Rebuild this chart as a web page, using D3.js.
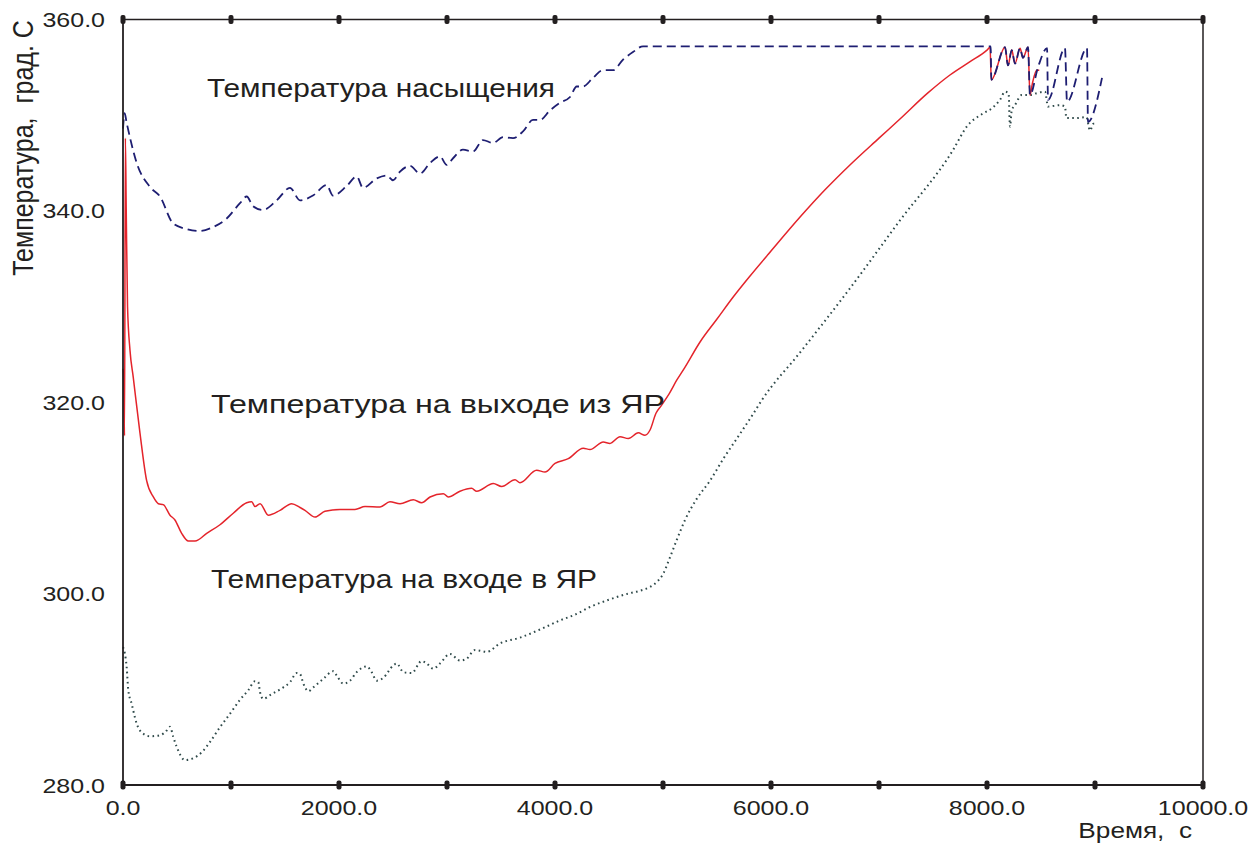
<!DOCTYPE html>
<html>
<head>
<meta charset="utf-8">
<script src="https://cdn.jsdelivr.net/npm/d3@7"></script>
<style>
  html, body { margin: 0; padding: 0; background: #fff; }
  svg text { font-family: "Liberation Sans", Arial, sans-serif; fill: #231f20; white-space: pre; }
</style>
</head>
<body>
<svg id="chart" width="1255" height="847"></svg>
<script>
// Time, s and temperature, °C
const xTicks = [0, 1000, 2000, 3000, 4000, 5000, 6000, 7000, 8000, 9000, 10000];
const xTickLabels = [0, 2000, 4000, 6000, 8000, 10000];
const yTickLabels = [280, 300, 320, 340, 360];

// Saturation temperature
const saturationTemp = [
  [0,348.6],[15,350.2],[34,349.2],[127,345.0],[250,342.5],[343,341.5],[463,338.7],[590,338.1],
  [713,337.9],[833,338.3],[960,339.2],[1083,340.8],[1145,341.5],[1204,340.5],[1296,340.1],
  [1423,341.1],[1546,342.4],[1639,341.1],[1759,341.6],[1886,342.7],[1944,341.6],[2071,342.6],
  [2164,343.6],[2222,342.4],[2349,343.4],[2442,343.7],[2500,343.2],[2565,344.1],[2657,344.7],
  [2750,343.9],[2843,345.0],[2935,345.7],[2997,344.8],[3056,345.5],[3148,346.4],[3241,346.2],
  [3333,347.4],[3426,347.1],[3519,347.7],[3611,347.6],[3704,348.3],[3796,349.5],[3861,349.5],
  [3954,350.5],[4046,351.3],[4139,351.9],[4201,353.0],[4259,353.0],[4352,353.9],[4444,354.7],
  [4537,354.7],[4630,355.8],[4722,356.6],[4815,357.2],[8034,357.2],[8040,353.7],[8167,357.1],
  [8194,355.2],[8229,356.8],[8259,355.4],[8306,357.0],[8333,356.0],[8380,357.1],[8398,352.1],
  [8472,355.0],[8556,357.0],[8565,351.6],[8722,357.0],[8741,351.4],[8926,357.0],[8935,349.3],
  [9065,353.9]
];

// Core outlet temperature
const outletTemp = [
  [0,323.5],[6,322.5],[14,316.5],[22,347.6],[30,340.0],[42,330.0],[65,325.4],[95,322.6],
  [157,316.8],[219,311.8],[281,310.1],[327,309.4],[373,309.3],[435,308.2],[481,307.7],
  [543,306.3],[605,305.5],[667,305.5],[775,306.3],[898,307.2],[1021,308.4],[1145,309.5],
  [1192,309.6],[1222,309.1],[1269,309.4],[1345,308.2],[1454,308.7],[1562,309.4],[1639,309.0],
  [1685,308.7],[1778,308.0],[1870,308.6],[2009,308.8],[2148,308.8],[2241,309.1],[2380,309.05],
  [2472,309.6],[2565,309.4],[2688,309.8],[2765,309.5],[2843,310.1],[2966,310.45],[3012,310.1],
  [3120,310.7],[3228,311.0],[3275,310.7],[3429,311.5],[3506,311.2],[3630,311.9],[3676,311.6],
  [3830,312.9],[3907,312.7],[4000,313.6],[4123,314.1],[4262,315.2],[4324,315.05],[4447,315.85],
  [4509,315.7],[4602,316.4],[4679,316.2],[4771,316.8],[4833,316.55],[4880,317.1],[4935,318.85],
  [4981,319.6],[5058,320.9],[5127,322.3],[5200,323.6],[5343,326.3],[5500,328.7],[5650,331.0],
  [5806,333.2],[6000,335.8],[6269,339.35],[6500,342.2],[6731,344.8],[7000,347.6],[7194,349.6],
  [7450,352.3],[7657,354.2],[7843,355.6],[8000,356.8],[8028,357.1],[8040,353.7],[8167,357.1],
  [8194,355.2],[8229,356.8],[8259,355.4],[8306,357.0],[8333,356.0],[8380,357.1],[8398,352.1],
  [8420,353.3],[8460,354.7],[8484,354.7]
];

// Core inlet temperature
const inletTemp = [
  [0,294.4],[34,292.3],[49,289.9],[80,288.5],[127,286.4],[188,285.35],[250,285.1],[343,285.2],
  [405,285.7],[435,286.1],[466,285.0],[497,284.0],[574,282.6],[651,282.8],[728,283.4],[806,284.5],
  [898,286.05],[991,287.45],[1083,288.9],[1160,289.9],[1222,290.85],[1253,290.75],[1269,289.7],
  [1299,289.0],[1361,289.4],[1469,290.1],[1546,290.75],[1608,291.7],[1639,291.6],[1670,290.6],
  [1716,289.8],[1762,290.2],[1855,291.1],[1948,291.9],[1978,291.45],[2040,290.6],[2102,290.9],
  [2164,291.8],[2256,292.4],[2302,291.8],[2349,290.9],[2410,291.2],[2503,292.5],[2534,292.7],
  [2596,291.8],[2673,291.7],[2765,292.95],[2812,292.7],[2873,292.15],[2935,292.7],[3028,293.7],
  [3120,293.0],[3182,293.2],[3259,294.1],[3321,294.0],[3367,293.9],[3491,294.8],[3676,295.4],
  [3861,296.25],[4046,297.2],[4185,297.8],[4324,298.6],[4509,299.4],[4694,300.05],[4787,300.3],
  [4880,300.7],[4941,301.2],[5003,302.1],[5065,303.8],[5127,305.6],[5204,307.7],[5312,309.9],
  [5435,311.8],[5559,314.1],[5713,316.7],[5836,318.8],[5914,320.2],[6269,325.2],[6731,331.9],
  [7194,339.0],[7685,346.35],[7812,348.8],[7966,350.2],[8043,350.7],[8120,351.6],[8167,352.45],
  [8200,352.3],[8213,348.8],[8229,350.5],[8259,351.05],[8321,352.1],[8398,352.1],[8460,352.3],
  [8537,352.45],[8565,350.9],[8676,351.05],[8722,350.9],[8735,349.7],[8827,349.7],[8920,349.8],
  [8954,348.4],[8985,349.1],[9016,349.1]
];

const seriesNames = ["Температура насыщения", "Температура на выходе из ЯР", "Температура на входе в ЯР"];

const svg = d3.select("#chart");
const x = d3.scaleLinear().domain([0, 10000]).range([123, 1203]);
const y = d3.scaleLinear().domain([280, 360]).range([785, 19.5]);
const SX = 1.19; // horizontal widening of the lettering

const fmt = d3.format(".1f");
const line = d3.line().x(d => x(d[0])).y(d => y(d[1])).curve(d3.curveMonotoneX);

// plot lines
svg.append("path").datum(inletTemp).attr("d", line)
  .attr("fill", "none").attr("stroke", "#2f4a4a").attr("stroke-width", 2)
  .attr("stroke-dasharray", "1.6,3.4");
svg.append("path").datum(outletTemp).attr("d", line)
  .attr("fill", "none").attr("stroke", "#e4242b").attr("stroke-width", 1.5);
svg.append("path").datum(saturationTemp).attr("d", line)
  .attr("fill", "none").attr("stroke", "#1e1e72").attr("stroke-width", 1.8)
  .attr("stroke-dasharray", "9,5");

// frame
const [x0, x1] = x.range();
const [yb, yt] = y.range();
svg.append("line").attr("x1", x0).attr("x2", x1).attr("y1", yt).attr("y2", yt)
  .attr("stroke", "#231f20").attr("stroke-width", 1.5);
svg.append("line").attr("x1", x0).attr("x2", x1).attr("y1", yb).attr("y2", yb)
  .attr("stroke", "#231f20").attr("stroke-width", 1.8);
svg.append("line").attr("x1", x0).attr("x2", x0).attr("y1", yt).attr("y2", yb)
  .attr("stroke", "#231f20").attr("stroke-width", 1.8);
svg.append("line").attr("x1", x1).attr("x2", x1).attr("y1", yt).attr("y2", yb)
  .attr("stroke", "#231f20").attr("stroke-width", 1.5);

// tick marks on top and bottom edges
[yt, yb].forEach(yy => {
  svg.selectAll(null).data(xTicks).enter().append("rect")
    .attr("x", d => x(d) - 2.5).attr("y", yy - 4.5)
    .attr("width", 5).attr("height", 9).attr("rx", 2)
    .attr("fill", "#231f20");
});

function label(tx, ty, str, size, anchor, rotate) {
  const g = svg.append("g")
    .attr("transform", `translate(${tx},${ty}) scale(${SX},1)` + (rotate ? ` rotate(${rotate})` : ""));
  return g.append("text").attr("font-size", size).attr("text-anchor", anchor).text(str);
}

// x tick labels
xTickLabels.forEach(v => label(x(v), 815, fmt(v), 21, "middle"));
// y tick labels
yTickLabels.forEach(v => label(105, y(v) + 7.5, fmt(v), 21, "end"));

// axis titles
label(1192, 838, "Время,  с", 22, "end");
label(33, 148, "Температура,  град. С", 25, "middle", -90);

// curve captions: anchor in data space and drawn width
const captionPlace = [
  { t: 778, v: 351.9, w: 348 },
  { t: 815, v: 318.85, w: 454 },
  { t: 815, v: 300.55, w: 386 }
];
seriesNames.forEach((name, i) => {
  const p = captionPlace[i];
  svg.append("text")
    .attr("x", x(p.t)).attr("y", y(p.v))
    .attr("font-size", 26)
    .attr("textLength", p.w).attr("lengthAdjust", "spacingAndGlyphs")
    .text(name);
});
</script>
</body>
</html>
